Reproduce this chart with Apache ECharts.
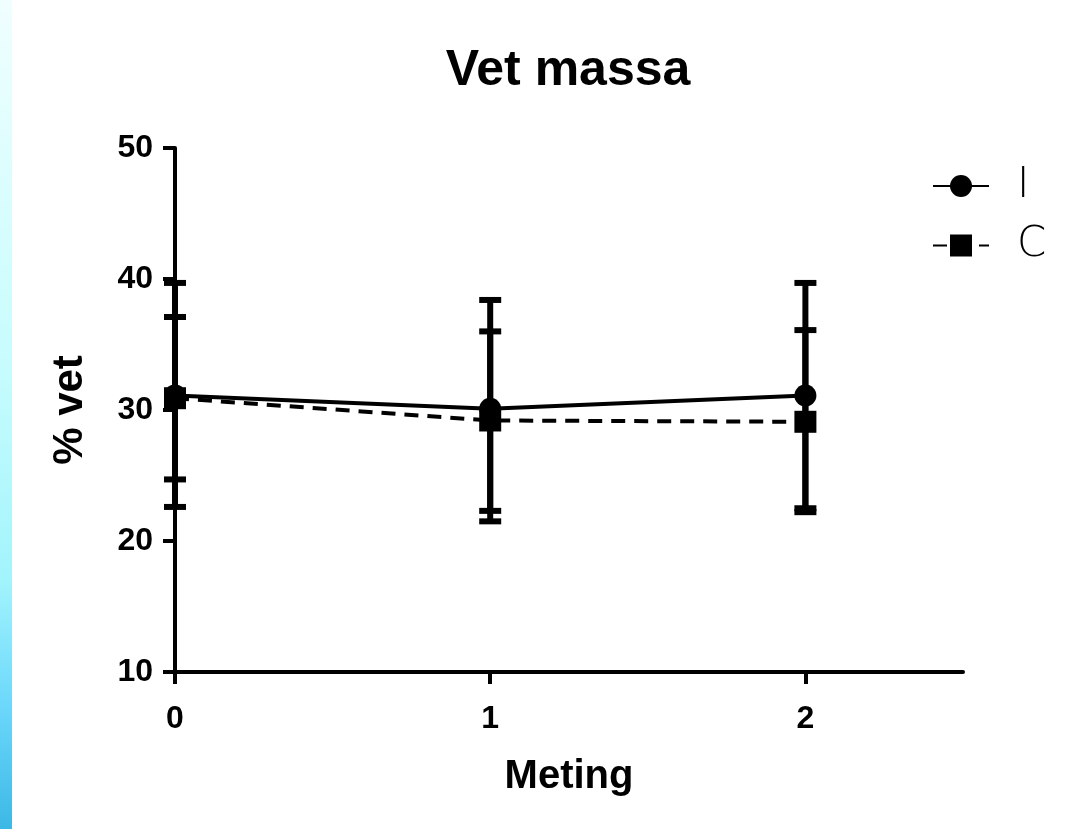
<!DOCTYPE html>
<html>
<head>
<meta charset="utf-8">
<title>Vet massa</title>
<script src="https://cdn.jsdelivr.net/npm/echarts@6/dist/echarts.min.js"></script>
<style>
  html, body { margin: 0; padding: 0; background: #fff; }
  #chart { width: 1072px; height: 829px; }
</style>
</head>
<body>
<div id="chart"></div>
<script>
// meetmomenten
const meting = [0, 1, 2];
const yTicks = [10, 20, 30, 40, 50];

// groep I (gemiddelde + foutbalk)
const iMean = [31.1, 30.1, 31.1];
const iLow = [22.6, 22.3, 22.5];
const iHigh = [39.7, 38.4, 39.7];

// groep C
const cMean = [30.9, 29.2, 29.1];
const cLow = [24.7, 21.5, 22.2];
const cHigh = [37.1, 36.0, 36.1];

const font = "'Liberation Sans', Arial, sans-serif";

function errorBars(low, high) {
  return meting.map((x, k) => [x, low[k], high[k]]);
}

function renderErrorBar(params, api) {
  const top = api.coord([api.value(0), api.value(2)]);
  const bottom = api.coord([api.value(0), api.value(1)]);
  const half = 11;
  const style = { stroke: '#000', lineWidth: 6 };
  return {
    type: 'group',
    children: [
      { type: 'line', shape: { x1: top[0], y1: top[1], x2: bottom[0], y2: bottom[1] }, style },
      { type: 'line', shape: { x1: top[0] - half, y1: top[1], x2: top[0] + half, y2: top[1] }, style },
      { type: 'line', shape: { x1: bottom[0] - half, y1: bottom[1], x2: bottom[0] + half, y2: bottom[1] }, style }
    ]
  };
}

const chart = echarts.init(document.getElementById('chart'));
chart.setOption({
  backgroundColor: '#fff',
  animation: false,
  graphic: [
    {
      type: 'rect',
      shape: { x: 0, y: 0, width: 12, height: 829 },
      style: {
        fill: new echarts.graphic.LinearGradient(0, 0, 0, 1, [
          { offset: 0, color: '#f0fefe' },
          { offset: 0.45, color: '#c6fcfd' },
          { offset: 0.7, color: '#a2f4fd' },
          { offset: 0.85, color: '#6cd8fb' },
          { offset: 1, color: '#3cb8e6' }
        ])
      },
      silent: true
    }
  ],
  title: {
    text: 'Vet massa',
    left: 568,
    top: 46,
    textAlign: 'center',
    padding: 0,
    textStyle: { fontFamily: font, fontWeight: 'bold', fontSize: 50, color: '#000' }
  },
  legend: {
    data: ['I', 'C'],
    orient: 'vertical',
    left: 932,
    top: 165,
    padding: 0,
    itemWidth: 56,
    itemHeight: 27.5,
    itemGap: 17.5,
    textStyle: {
      fontFamily: "'DejaVu Sans', sans-serif",
      fontWeight: 200,
      fontSize: 42,
      lineHeight: 28,
      color: '#000',
      padding: [0, 0, 0, 23]
    }
  },
  grid: { left: 175, right: 109, top: 148, bottom: 157 },
  xAxis: {
    type: 'value',
    min: 0,
    max: 2.5,
    interval: 1,
    name: 'Meting',
    nameLocation: 'middle',
    nameGap: 85,
    nameTextStyle: { fontFamily: font, fontWeight: 'bold', fontSize: 40, color: '#000' },
    splitLine: { show: false },
    axisLine: { show: true, lineStyle: { color: '#000', width: 4 } },
    axisTick: { show: true, length: 12, lineStyle: { color: '#000', width: 4 }, customValues: meting },
    axisLabel: {
      customValues: meting,
      margin: 31,
      fontFamily: font, fontWeight: 'bold', fontSize: 32, color: '#000'
    }
  },
  yAxis: {
    type: 'value',
    min: 10,
    max: 50,
    interval: 10,
    name: '% vet',
    nameLocation: 'middle',
    nameGap: 84,
    nameTextStyle: { fontFamily: font, fontWeight: 'bold', fontSize: 42, color: '#000' },
    splitLine: { show: false },
    axisLine: { show: true, lineStyle: { color: '#000', width: 4 } },
    axisTick: { show: true, length: 12, lineStyle: { color: '#000', width: 4 } },
    axisLabel: {
      customValues: yTicks,
      margin: 22,
      fontFamily: font, fontWeight: 'bold', fontSize: 32, color: '#000'
    }
  },
  series: [
    {
      type: 'custom',
      name: 'I-sd',
      renderItem: renderErrorBar,
      data: errorBars(iLow, iHigh),
      encode: { x: 0, y: [1, 2] },
      z: 1,
      silent: true
    },
    {
      type: 'custom',
      name: 'C-sd',
      renderItem: renderErrorBar,
      data: errorBars(cLow, cHigh),
      encode: { x: 0, y: [1, 2] },
      z: 1,
      silent: true
    },
    {
      name: 'I',
      type: 'line',
      data: meting.map((x, k) => [x, iMean[k]]),
      symbol: 'circle',
      symbolSize: 22,
      itemStyle: { color: '#000' },
      lineStyle: { color: '#000', width: 4 },
      z: 3
    },
    {
      name: 'C',
      type: 'line',
      data: meting.map((x, k) => [x, cMean[k]]),
      symbol: 'rect',
      symbolSize: 22,
      itemStyle: { color: '#000' },
      lineStyle: { color: '#000', width: 4, type: [14, 9] },
      z: 2
    }
  ]
});
</script>
</body>
</html>
